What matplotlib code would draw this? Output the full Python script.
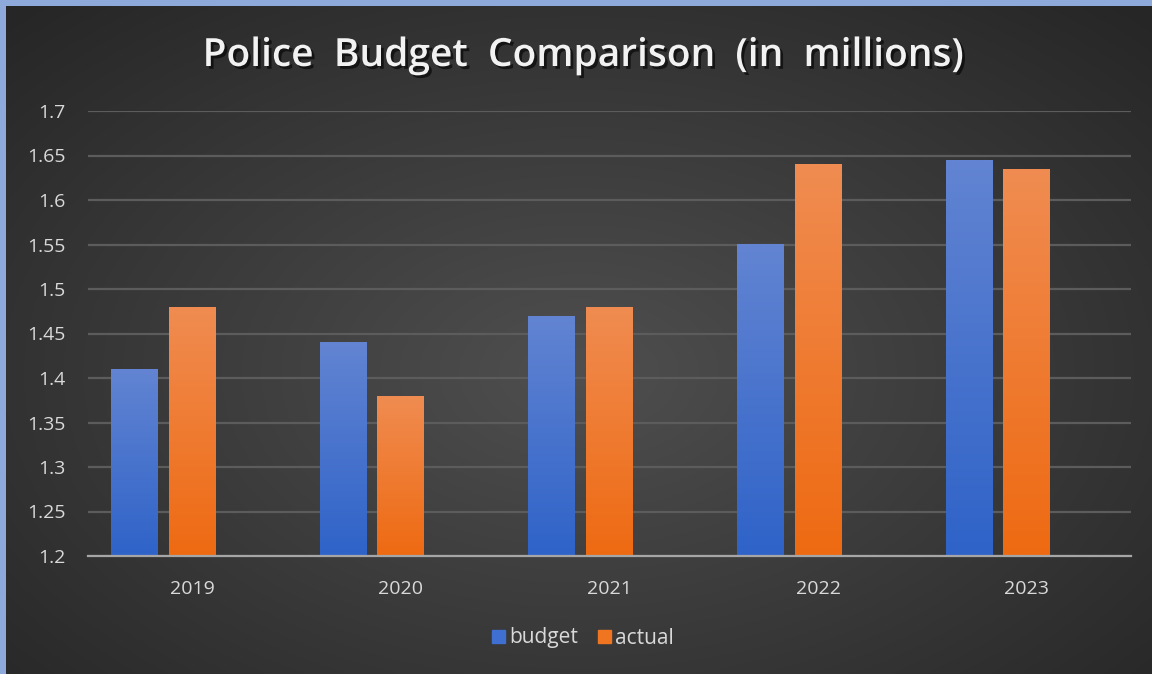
import matplotlib.pyplot as plt
import matplotlib.patheffects as pe
import numpy as np
from matplotlib.patches import Patch

years = ['2019', '2020', '2021', '2022', '2023']
budget = [1.41, 1.44, 1.47, 1.55, 1.645]
actual = [1.48, 1.38, 1.48, 1.64, 1.635]
yticks = [1.2, 1.25, 1.3, 1.35, 1.4, 1.45, 1.5, 1.55, 1.6, 1.65, 1.7]
ytick_labels = ['1.2', '1.25', '1.3', '1.35', '1.4', '1.45', '1.5', '1.55', '1.6', '1.65', '1.7']

plt.rcParams['font.family'] = ['Open Sans', 'DejaVu Sans']

fig = plt.figure(figsize=(11.52, 6.74), dpi=100)
fig.patch.set_facecolor('#8eaadb')

# dark radial background
bg = fig.add_axes([6 / 1152, 0, 1 - 6 / 1152, 1 - 6 / 674])
bg.set_axis_off()
yy, xx = np.mgrid[0:1:300j, 0:1:500j]
r = np.sqrt(((xx - 0.5) / 0.75) ** 2 + ((yy - 0.55) / 0.8) ** 2)
shade = np.clip(0.31 - 0.17 * r, 0.15, 0.31)
bg.imshow(np.dstack([shade, shade, shade]), aspect='auto', extent=(0, 1, 0, 1), interpolation='bicubic')
bg.set_xlim(0, 1)
bg.set_ylim(0, 1)

ax = fig.add_axes([88 / 1152, 1 - 556 / 674, (1131 - 88) / 1152, (556 - 111) / 674])
ax.patch.set_alpha(0)

x = np.arange(len(years))
w = 0.225
pitch = 0.276


def grad_bars(bars, top, bottom):
    c = np.linspace(0, 1, 100)[:, None, None]
    top = np.array(plt.matplotlib.colors.to_rgb(top))
    bottom = np.array(plt.matplotlib.colors.to_rgb(bottom))
    img = top * (1 - c) + bottom * c
    for b in bars:
        b.set_path_effects([pe.SimplePatchShadow(offset=(0, 0), shadow_rgbFace='black', alpha=0.35),
                            pe.Normal()])
        x0, y0 = b.get_x(), b.get_y()
        im = ax.imshow(img, extent=(x0, x0 + b.get_width(), y0, y0 + b.get_height()),
                       aspect='auto', zorder=3, interpolation='bilinear')
        im.set_clip_path(b)


b1 = ax.bar(x - pitch, budget, w, bottom=0, color='#4a76cf', zorder=2, linewidth=0)
b2 = ax.bar(x, actual, w, bottom=0, color='#ef7a2f', zorder=2, linewidth=0)
ax.set_xlim(-0.5, 4.5)
ax.set_ylim(1.2, 1.7)
for bars in (b1, b2):
    for b in bars:
        b.set_y(1.2)
        b.set_height(b.get_height() - 1.2)
grad_bars(b1, '#6284d2', '#2f63c8')
grad_bars(b2, '#f08c51', '#ee6a12')
ax.set_xlim(-0.5, 4.5)
ax.set_ylim(1.2, 1.7)

ax.set_yticks(yticks)
ax.set_yticklabels(ytick_labels)
ax.set_xticks(x)
ax.set_xticklabels(years)
ax.tick_params(axis='both', length=0, colors='#d9d9d9', labelsize=14)
ax.tick_params(axis='y', pad=16)
ax.tick_params(axis='x', pad=17)
ax.yaxis.grid(True, color='#5c5c5c', linewidth=1.6, zorder=0)
ax.set_axisbelow(True)
for s in ['top', 'right', 'left']:
    ax.spines[s].set_visible(False)
ax.spines['bottom'].set_color('#a6a6a6')
ax.spines['bottom'].set_linewidth(1.6)
ax.spines['bottom'].set_zorder(5)

fig.text(583 / 1152, 1 - 56 / 674, 'Police  Budget  Comparison  (in  millions)', ha='center', va='center',
         color='#f2f2f2', fontsize=28, fontweight='semibold',
         path_effects=[pe.withSimplePatchShadow(offset=(2, -2), shadow_rgbFace='black', alpha=0.6)])

handles = [Patch(color='#3f6fd0', label='budget'), Patch(color='#f07520', label='actual')]
leg = fig.legend(handles=handles, loc='center', bbox_to_anchor=(583 / 1152, 1 - 638 / 674), ncol=2,
                 frameon=False, fontsize=15, handlelength=0.6, handleheight=0.6, handletextpad=0.2,
                 columnspacing=1.0)
for t in leg.get_texts():
    t.set_color('#d9d9d9')

fig.savefig('out.png', dpi=100, facecolor=fig.get_facecolor())
